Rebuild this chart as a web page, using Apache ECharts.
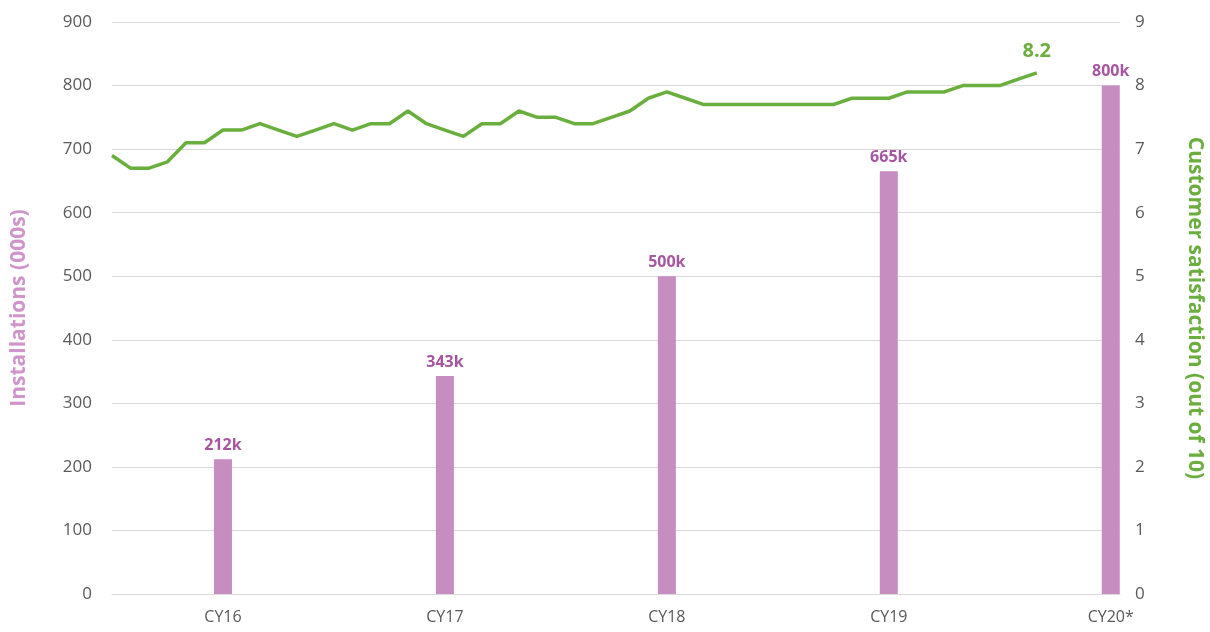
<!DOCTYPE html>
<html>
<head>
<meta charset="utf-8">
<script src="https://cdn.jsdelivr.net/npm/echarts@6/dist/echarts.min.js"></script>
<style>
  html, body { margin: 0; padding: 0; background: #fff; }
  #chart { width: 1210px; height: 632px; }
</style>
</head>
<body>
<div id="chart"></div>
<script>
// years (months after CY16 start) and installations in thousands
var yearLabels = ['CY16', 'CY17', 'CY18', 'CY19', 'CY20*'];
var yearMonths = [0, 12, 24, 36, 48];
var installs = [212, 343, 500, 665, 800];

// monthly customer satisfaction, from 6 months before CY16
var satStartMonth = -6;
var satisfaction = [6.9, 6.7, 6.7, 6.8, 7.1, 7.1, 7.3, 7.3, 7.4, 7.3,
                    7.2, 7.3, 7.4, 7.3, 7.4, 7.4, 7.6, 7.4, 7.3, 7.2,
                    7.4, 7.4, 7.6, 7.5, 7.5, 7.4, 7.4, 7.5, 7.6, 7.8,
                    7.9, 7.8, 7.7, 7.7, 7.7, 7.7, 7.7, 7.7, 7.7, 7.7,
                    7.8, 7.8, 7.8, 7.9, 7.9, 7.9, 8.0, 8.0, 8.0, 8.1,
                    8.2];

var chart = echarts.init(document.getElementById('chart'));
var font = '"Open Sans", "Noto Sans", sans-serif';

var barData = installs.map(function (v, i) { return [yearMonths[i], v]; });
var lineData = satisfaction.map(function (v, i) { return [satStartMonth + i, v]; });
var lastIdx = lineData.length - 1;

chart.setOption({
  animation: false,
  textStyle: { fontFamily: font },
  grid: { left: 112, right: 90, top: 22, bottom: 38, containLabel: false, outerBoundsMode: 'none' },
  xAxis: {
    type: 'value',
    min: -6,
    max: 48.5,
    axisLine: { show: true, lineStyle: { color: '#d9d9d9' } },
    axisTick: { show: false },
    splitLine: { show: false },
    axisLabel: {
      customValues: yearMonths,
      color: '#595959',
      fontSize: 16,
      margin: 15,
      formatter: function (v) {
        var i = yearMonths.indexOf(v);
        return i >= 0 ? yearLabels[i] : '';
      }
    }
  },
  yAxis: [{
    type: 'value',
    min: 0,
    max: 900,
    interval: 100,
    name: 'Installations (000s)',
    nameLocation: 'middle',
    nameGap: 82,
    nameTextStyle: { color: '#cf94ca', fontSize: 21, fontWeight: 'bold', fontFamily: font },
    axisLine: { show: false },
    axisTick: { show: false },
    axisLabel: { color: '#595959', fontSize: 17, margin: 20 },
    splitLine: { lineStyle: { color: '#d9d9d9', width: 1 } }
  }, {
    type: 'value',
    min: 0,
    max: 9,
    interval: 1,
    name: 'Customer satisfaction (out of 10)',
    nameLocation: 'middle',
    nameGap: 64,
    nameRotate: -90,
    nameTextStyle: { color: '#6aae3e', fontSize: 21, fontWeight: 'bold', fontFamily: font },
    axisLine: { show: false },
    axisTick: { show: false },
    axisLabel: { color: '#595959', fontSize: 17, margin: 15 },
    splitLine: { show: false }
  }],
  series: [{
    name: 'Installations',
    type: 'bar',
    yAxisIndex: 0,
    barWidth: 18,
    data: barData,
    itemStyle: { color: '#c68dc1' },
    label: {
      show: true,
      position: 'top',
      distance: 6,
      color: '#a655a0',
      fontSize: 16,
      fontWeight: 'bold',
      formatter: function (p) { return p.value[1] + 'k'; }
    }
  }, {
    name: 'Customer satisfaction',
    type: 'line',
    yAxisIndex: 1,
    data: lineData,
    symbol: 'none',
    lineStyle: { color: '#6aae3e', width: 3.5 },
    itemStyle: { color: '#6aae3e' },
    markPoint: {
      symbol: 'circle',
      symbolSize: 0,
      data: [{ coord: lineData[lastIdx], value: satisfaction[lastIdx] }],
      label: {
        show: true,
        position: 'top',
        distance: 12,
        color: '#6aae3e',
        fontSize: 20,
        fontWeight: 'bold',
        formatter: function (p) { return p.value.toFixed(1); }
      }
    }
  }]
});
</script>
</body>
</html>
